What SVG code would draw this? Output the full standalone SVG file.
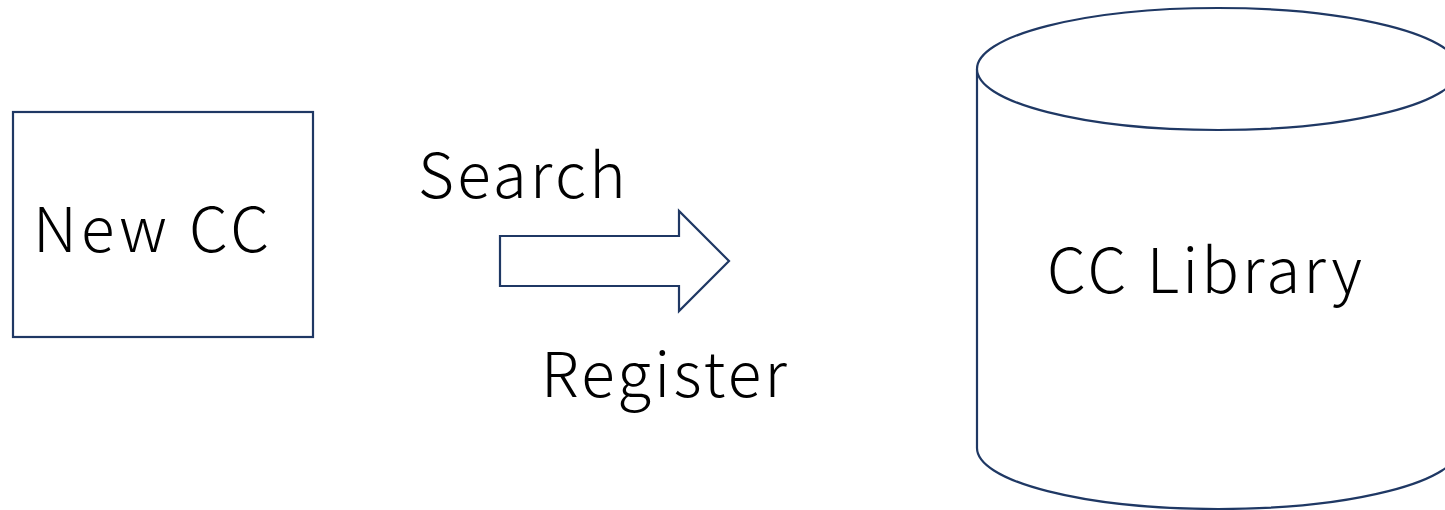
<svg xmlns="http://www.w3.org/2000/svg" width="1445" height="510" viewBox="0 0 1445 510">
<style>
.s{fill:#fff;stroke:#1f3864;stroke-width:2.2}
.t{font-family:"Noto Sans CJK JP","Noto Sans",sans-serif;font-size:62px;fill:#000;font-weight:300;letter-spacing:3.3px}
</style>
<rect width="1445" height="510" fill="#fff"/>
<g id="new-cc">
<rect class="s" x="13" y="112" width="300" height="225"/>
<text class="t" x="33" y="252" style="letter-spacing:4.2px">New <tspan style="letter-spacing:4px">CC</tspan></text>
</g>
<g id="cc-library">
<path class="s" d="M977,69 L977,448 A241,61 0 0 0 1459,448 L1459,69"/>
<ellipse class="s" cx="1218" cy="69" rx="241" ry="61"/>
<text class="t" x="1047" y="293">CC Library</text>
</g>
<g id="connectors">
<path class="s" d="M500,236 L679,236 L679,211 L729,261 L679,311 L679,286 L500,286 Z"/>
<text class="t" x="418" y="198">Search</text>
<text class="t" x="541" y="397">Register</text>
</g>
</svg>
